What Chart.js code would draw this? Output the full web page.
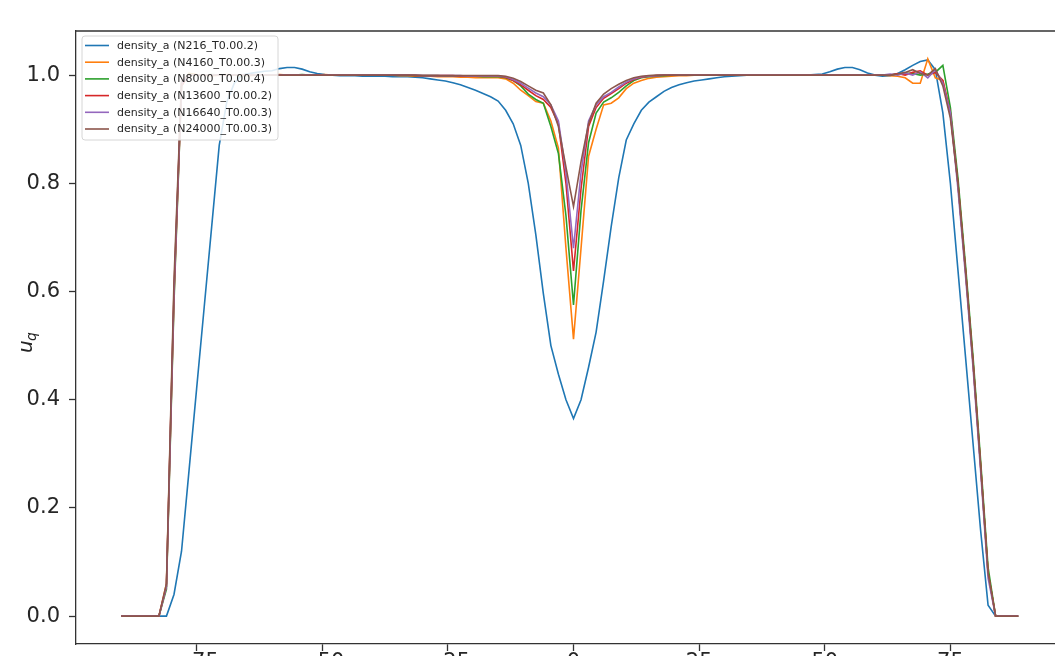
<!DOCTYPE html>
<html>
<head>
<meta charset="utf-8">
<script src="https://cdn.jsdelivr.net/npm/chart.js@4.4.1/dist/chart.umd.min.js"></script>
<style>
  html, body { margin: 0; padding: 0; background: #fff; overflow: hidden; }
  #chart { display: block; }
</style>
</head>
<body>
<canvas id="chart" width="1080" height="680"></canvas>
<script>
// x positions of the profile samples
const xs = [
  -90, -88.5, -87, -85.5, -84, -82.5, -81, -79.5, -78, -76.5,
  -75, -73.5, -72, -70.5, -69, -67.5, -66, -64.5, -63, -61.5,
  -60, -58.5, -57, -55.5, -54, -52.5, -51, -49.5, -48, -46.5,
  -45, -43.5, -42, -40.5, -39, -37.5, -36, -34.5, -33, -31.5,
  -30, -28.5, -27, -25.5, -24, -22.5, -21, -19.5, -18, -16.5,
  -15, -13.5, -12, -10.5, -9, -7.5, -6, -4.5, -3, -1.5,
  0, 1.5, 3, 4.5, 6, 7.5, 9, 10.5, 12, 13.5,
  15, 16.5, 18, 19.5, 21, 22.5, 24, 25.5, 27, 28.5,
  30, 31.5, 33, 34.5, 36, 37.5, 39, 40.5, 42, 43.5,
  45, 46.5, 48, 49.5, 51, 52.5, 54, 55.5, 57, 58.5,
  60, 61.5, 63, 64.5, 66, 67.5, 69, 70.5, 72, 73.5,
  75, 76.5, 78, 79.5, 81, 82.5, 84, 85.5, 87, 88.5
];

const densN216 = [
  0, 0, 0, 0, 0, 0, 0, 0.04, 0.12, 0.27,
  0.42, 0.57, 0.72, 0.87, 0.95, 0.985, 1.0, 1.003, 1.005, 1.007,
  1.008, 1.012, 1.014, 1.014, 1.011, 1.006, 1.003, 1.001, 1.0, 0.999,
  0.999, 0.999, 0.998, 0.998, 0.998, 0.998, 0.997, 0.997, 0.997, 0.996,
  0.995, 0.993, 0.991, 0.989, 0.986, 0.982, 0.977, 0.972, 0.966, 0.96,
  0.952, 0.935, 0.91, 0.87, 0.8, 0.705, 0.596, 0.5, 0.447, 0.4,
  0.365, 0.4, 0.46, 0.525, 0.62, 0.72, 0.81, 0.88, 0.91, 0.935,
  0.95, 0.96, 0.97, 0.977, 0.982, 0.986, 0.989, 0.991, 0.993, 0.995,
  0.997, 0.998, 0.999, 1.0, 1.0, 1.0, 1.0, 1.0, 1.0, 1.0,
  1.0, 1.0, 1.001, 1.002, 1.006, 1.011, 1.014, 1.014, 1.01, 1.004,
  1.0, 0.998, 0.999, 1.003, 1.01, 1.018, 1.025, 1.028, 1.01, 0.93,
  0.8, 0.64, 0.48, 0.32, 0.16, 0.02, 0, 0, 0, 0
];

const densN4160 = [
  0, 0, 0, 0, 0, 0, 0.06, 0.6, 0.985, 1.003,
  1.001, 1.0, 0.999, 1.0, 1.001, 1.0, 1.0, 0.999, 1.0, 1.0,
  1.0, 1.001, 1.0, 1.0, 1.0, 1.0, 1.0, 1.001, 1.0, 1.0,
  1.0, 1.0, 1.0, 1.0, 1.0, 1.0, 1.0, 0.999, 0.999, 0.998,
  0.998, 0.998, 0.997, 0.997, 0.997, 0.996, 0.996, 0.995, 0.995, 0.995,
  0.995, 0.993, 0.985, 0.972, 0.962, 0.951, 0.948, 0.915, 0.865, 0.68,
  0.512, 0.68, 0.85, 0.9, 0.945, 0.948, 0.958, 0.975, 0.985, 0.99,
  0.994, 0.996, 0.997, 0.998, 0.999, 0.999, 1.0, 1.0, 1.0, 1.0,
  1.0, 1.0, 1.0, 1.0, 1.0, 1.0, 1.0, 1.0, 1.0, 1.0,
  1.0, 1.0, 1.0, 1.0, 1.0, 1.0, 1.0, 1.0, 1.0, 1.0,
  1.0, 1.0, 0.999, 0.998, 0.995, 0.985, 0.985, 1.03, 0.995, 0.99,
  0.93, 0.8, 0.64, 0.47, 0.28, 0.08, 0, 0, 0, 0
];

const densN8000 = [
  0, 0, 0, 0, 0, 0, 0.05, 0.58, 0.98, 1.002,
  1.0, 1.0, 1.001, 1.0, 1.0, 1.0, 0.999, 1.0, 1.0, 1.0,
  1.0, 1.0, 1.0, 1.0, 1.001, 1.0, 1.0, 1.0, 1.0, 1.0,
  1.0, 1.0, 1.0, 1.0, 1.0, 1.0, 1.0, 1.0, 1.0, 0.999,
  0.999, 0.999, 0.999, 0.998, 0.998, 0.998, 0.998, 0.998, 0.997, 0.997,
  0.997, 0.995, 0.99, 0.98, 0.965, 0.955, 0.948, 0.905, 0.855, 0.74,
  0.575, 0.75, 0.875, 0.93, 0.95, 0.958, 0.968, 0.98, 0.99, 0.995,
  0.997, 0.998, 0.999, 1.0, 1.0, 1.0, 1.0, 1.0, 1.0, 1.0,
  1.0, 1.0, 1.0, 1.0, 1.0, 1.0, 1.0, 1.0, 1.0, 1.0,
  1.0, 1.0, 1.0, 1.0, 1.0, 1.0, 1.0, 1.0, 1.0, 1.0,
  1.0, 1.0, 1.0, 1.002, 1.004, 1.003, 1.0, 1.002, 1.005, 1.018,
  0.94, 0.81, 0.65, 0.48, 0.29, 0.09, 0, 0, 0, 0
];

const densN13600 = [
  0, 0, 0, 0, 0, 0, 0.055, 0.59, 0.98, 1.001,
  1.0, 1.0, 1.0, 1.0, 1.0, 1.0, 1.0, 1.0, 1.0, 1.0,
  1.0, 1.0, 1.0, 1.0, 1.0, 1.0, 1.0, 1.0, 1.0, 1.0,
  1.0, 1.0, 1.0, 1.0, 1.0, 1.0, 1.0, 1.0, 1.0, 0.999,
  0.999, 0.999, 0.999, 0.999, 0.999, 0.998, 0.998, 0.998, 0.998, 0.998,
  0.998, 0.996, 0.99, 0.982, 0.972, 0.962, 0.955, 0.94, 0.91, 0.8,
  0.638, 0.79, 0.905, 0.94, 0.957, 0.966, 0.975, 0.985, 0.992, 0.996,
  0.998, 0.999, 1.0, 1.0, 1.0, 1.0, 1.0, 1.0, 1.0, 1.0,
  1.0, 1.0, 1.0, 1.0, 1.0, 1.0, 1.0, 1.0, 1.0, 1.0,
  1.0, 1.0, 1.0, 1.0, 1.0, 1.0, 1.0, 1.0, 1.0, 1.0,
  1.0, 1.0, 1.0, 1.003, 1.0, 1.005, 1.008, 1.0, 1.005, 0.99,
  0.93, 0.8, 0.64, 0.47, 0.28, 0.08, 0, 0, 0, 0
];

const densN16640 = [
  0, 0, 0, 0, 0, 0, 0.055, 0.6, 0.985, 1.0,
  1.0, 1.0, 1.0, 1.0, 1.0, 1.0, 1.0, 1.0, 1.0, 1.0,
  1.0, 1.0, 1.0, 1.0, 1.0, 1.0, 1.0, 1.0, 1.0, 1.0,
  1.0, 1.0, 1.0, 1.0, 1.0, 1.0, 1.0, 1.0, 1.0, 1.0,
  0.999, 0.999, 0.999, 0.999, 0.999, 0.999, 0.998, 0.998, 0.998, 0.998,
  0.998, 0.997, 0.992, 0.985, 0.976, 0.967, 0.96, 0.945, 0.915, 0.82,
  0.68, 0.82, 0.915, 0.945, 0.96, 0.968, 0.978, 0.987, 0.993, 0.997,
  0.998, 0.999, 1.0, 1.0, 1.0, 1.0, 1.0, 1.0, 1.0, 1.0,
  1.0, 1.0, 1.0, 1.0, 1.0, 1.0, 1.0, 1.0, 1.0, 1.0,
  1.0, 1.0, 1.0, 1.0, 1.0, 1.0, 1.0, 1.0, 1.0, 1.0,
  1.0, 1.0, 1.002, 1.0, 1.004, 1.0, 1.006, 0.995, 1.01, 0.985,
  0.93, 0.79, 0.63, 0.46, 0.27, 0.07, 0, 0, 0, 0
];

const densN24000 = [
  0, 0, 0, 0, 0, 0, 0.06, 0.62, 0.99, 1.0,
  1.0, 1.0, 1.0, 1.0, 1.0, 1.0, 1.0, 1.0, 1.0, 1.0,
  1.0, 1.0, 1.0, 1.0, 1.0, 1.0, 1.0, 1.0, 1.0, 1.0,
  1.0, 1.0, 1.0, 1.0, 1.0, 1.0, 1.0, 1.0, 1.0, 1.0,
  0.999, 0.999, 0.999, 0.999, 0.999, 0.999, 0.999, 0.999, 0.999, 0.999,
  0.999, 0.998, 0.994, 0.988, 0.98, 0.972, 0.967, 0.945, 0.905, 0.83,
  0.757, 0.84, 0.91, 0.948, 0.965, 0.975, 0.983, 0.99, 0.995, 0.998,
  0.999, 1.0, 1.0, 1.0, 1.0, 1.0, 1.0, 1.0, 1.0, 1.0,
  1.0, 1.0, 1.0, 1.0, 1.0, 1.0, 1.0, 1.0, 1.0, 1.0,
  1.0, 1.0, 1.0, 1.0, 1.0, 1.0, 1.0, 1.0, 1.0, 1.0,
  1.0, 1.0, 1.0, 1.002, 1.005, 1.01, 1.003, 1.0, 1.012, 0.98,
  0.92, 0.8, 0.64, 0.47, 0.28, 0.08, 0, 0, 0, 0
];

const seriesLabels = [
  'density_a (N216_T0.00.2)',
  'density_a (N4160_T0.00.3)',
  'density_a (N8000_T0.00.4)',
  'density_a (N13600_T0.00.2)',
  'density_a (N16640_T0.00.3)',
  'density_a (N24000_T0.00.3)'
];
const seriesValues = [densN216, densN4160, densN8000, densN13600, densN16640, densN24000];
const seriesColors = ['#1f77b4', '#ff7f0e', '#2ca02c', '#d62728', '#9467bd', '#8c564b'];

const xTicks = [-75, -50, -25, 0, 25, 50, 75];
const yTicks = [0, 0.2, 0.4, 0.6, 0.8, 1.0];

const tickFont = { family: 'DejaVu Sans', size: 21 };
const inkColor = '#262626';

const datasets = seriesValues.map((vals, i) => ({
  label: seriesLabels[i],
  data: vals.map((v, j) => ({ x: xs[j], y: v })),
  borderColor: seriesColors[i],
  borderWidth: 1.6,
  pointRadius: 0,
  tension: 0,
  fill: false,
  order: seriesValues.length - i // later series on top, like matplotlib
}));

// top spine (right spine falls outside the crop)
const frame = {
  id: 'frame',
  afterDraw(chart) {
    const { ctx, chartArea: a } = chart;
    ctx.save();
    ctx.strokeStyle = '#333';
    ctx.lineWidth = 1.3;
    ctx.beginPath();
    ctx.moveTo(a.left, a.top);
    ctx.lineTo(a.right, a.top);
    ctx.lineTo(a.right, a.bottom);
    ctx.stroke();
    ctx.restore();
  }
};

// matplotlib style legend in the upper left corner
const cornerLegend = {
  id: 'cornerLegend',
  afterDraw(chart) {
    const ctx = chart.ctx;
    const bx = 82, by = 36, bw = 196, bh = 104, r = 3;
    ctx.save();
    ctx.fillStyle = 'rgba(255,255,255,0.85)';
    ctx.strokeStyle = '#d6d6d6';
    ctx.lineWidth = 1;
    ctx.beginPath();
    ctx.moveTo(bx + r, by);
    ctx.arcTo(bx + bw, by, bx + bw, by + bh, r);
    ctx.arcTo(bx + bw, by + bh, bx, by + bh, r);
    ctx.arcTo(bx, by + bh, bx, by, r);
    ctx.arcTo(bx, by, bx + bw, by, r);
    ctx.closePath();
    ctx.fill();
    ctx.stroke();
    ctx.font = '11px "DejaVu Sans"';
    ctx.textBaseline = 'middle';
    chart.data.datasets.forEach((ds, i) => {
      const y = 45.5 + i * 16.7;
      ctx.strokeStyle = ds.borderColor;
      ctx.lineWidth = 1.6;
      ctx.beginPath();
      ctx.moveTo(85, y);
      ctx.lineTo(109, y);
      ctx.stroke();
      ctx.fillStyle = inkColor;
      ctx.fillText(ds.label, 117, y + 0.5);
    });
    ctx.restore();
  }
};

// rotated y label u_q
const yTitle = {
  id: 'yTitle',
  afterDraw(chart) {
    const ctx = chart.ctx;
    ctx.save();
    ctx.translate(32, 344);
    ctx.rotate(-Math.PI / 2);
    ctx.fillStyle = inkColor;
    ctx.textBaseline = 'alphabetic';
    ctx.font = 'italic 20px "DejaVu Sans"';
    ctx.fillText('u', -9, 0);
    ctx.font = 'italic 14px "DejaVu Sans"';
    ctx.fillText('q', 3, 4);
    ctx.restore();
  }
};

const ctx = document.getElementById('chart').getContext('2d');
new Chart(ctx, {
  type: 'line',
  data: { datasets },
  plugins: [frame, cornerLegend, yTitle],
  options: {
    responsive: false,
    animation: false,
    devicePixelRatio: 1,
    layout: { padding: { top: 31, right: 9, left: 0, bottom: 0 } },
    plugins: { legend: { display: false }, tooltip: { enabled: false } },
    scales: {
      x: {
        type: 'linear',
        min: -99,
        max: 99,
        afterBuildTicks: s => { s.ticks = xTicks.map(v => ({ value: v })); },
        afterFit: s => { s.height = 36; },
        ticks: {
          font: tickFont,
          color: inkColor,
          padding: -1,
          maxRotation: 0,
          callback: v => (v < 0 ? '\u2212' + Math.abs(v) : String(v))
        },
        grid: { drawOnChartArea: false, tickLength: 7, tickColor: '#333', tickWidth: 1.3 },
        border: { color: '#333', width: 1.3 }
      },
      y: {
        min: -0.0515,
        max: 1.0815,
        afterBuildTicks: s => { s.ticks = yTicks.map(v => ({ value: v })); },
        afterFit: s => { s.width = 76; },
        ticks: {
          font: tickFont,
          color: inkColor,
          padding: 9,
          callback: v => v.toFixed(1)
        },
        grid: { drawOnChartArea: false, tickLength: 7, tickColor: '#333', tickWidth: 1.3 },
        border: { color: '#333', width: 1.3 }
      }
    }
  }
});
</script>
</body>
</html>
